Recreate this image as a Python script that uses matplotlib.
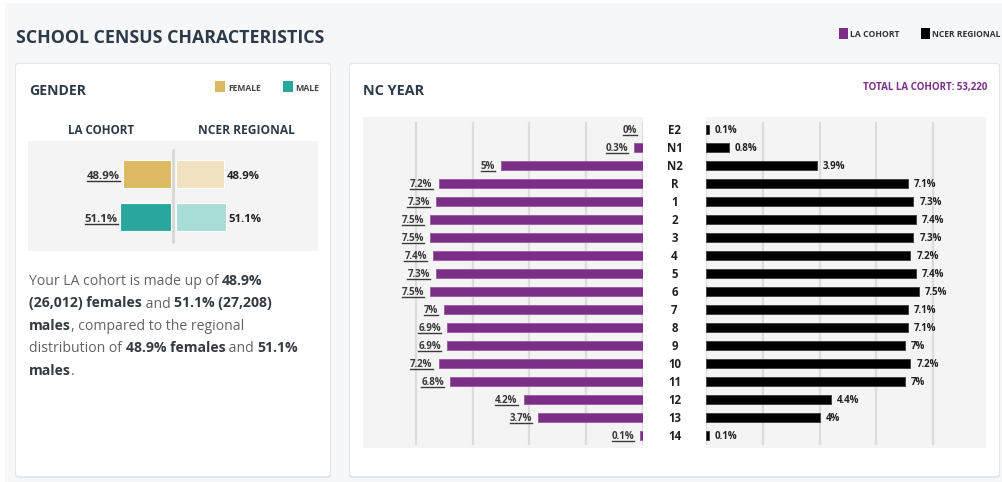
import matplotlib
matplotlib.use('Agg')
import matplotlib.pyplot as plt
from matplotlib import font_manager
from matplotlib.patches import FancyBboxPatch, Rectangle
from matplotlib.lines import Line2D
from matplotlib.transforms import Affine2D, IdentityTransform

# ---- data ----
nc_years = ['E2', 'N1', 'N2', 'R', '1', '2', '3', '4', '5', '6', '7', '8', '9',
            '10', '11', '12', '13', '14']
la_cohort = [0, 0.3, 5, 7.2, 7.3, 7.5, 7.5, 7.4, 7.3, 7.5, 7, 6.9, 6.9, 7.2, 6.8, 4.2, 3.7, 0.1]
ncer_regional = [0.1, 0.8, 3.9, 7.1, 7.3, 7.4, 7.3, 7.2, 7.4, 7.5, 7.1, 7.1, 7, 7.2, 7, 4.4, 4, 0.1]
total_la_cohort = '53,220'

genders = ['FEMALE', 'MALE']
gender_la = [48.9, 51.1]
gender_ncer = [48.9, 51.1]
gender_la_counts = ['26,012', '27,208']

# ---- style ----
PURPLE = '#7b2f87'
BLACK = '#000000'
DARK = '#2c3a4a'
FEMALE_C = ['#dcb962', '#f1e3c2']
MALE_C = ['#2aa79c', '#a9ddd8']
GRAY_BG = '#f4f4f4'
GRID = '#dcdcdc'

W, H = 1003, 482
fig = plt.figure(figsize=(W / 100, H / 100), dpi=100)
fig.patch.set_facecolor('white')
renderer = fig.canvas.get_renderer()

# pixel coords, origin top-left
PX = Affine2D().scale(1 / 100, -1 / 100).translate(0, H / 100) + fig.dpi_scale_trans

names = {f.name for f in font_manager.fontManager.ttflist}
COND = 'Liberation Sans Narrow' if 'Liberation Sans Narrow' in names else 'Open Sans'
BODY = 'Open Sans' if 'Open Sans' in names else 'DejaVu Sans'


def ax_at(x0, y0, x1, y1):
    return fig.add_axes([x0 / W, 1 - y1 / H, (x1 - x0) / W, (y1 - y0) / H])


def fit(t, target):
    for _ in range(2):
        w = t.get_window_extent(renderer).width
        t.set_fontsize(t.get_fontsize() * target / w)
    return t


def header(x0, x1, base, s, color=DARK, size=12):
    t = fig.text(x0, base, s, transform=PX, fontfamily=COND, fontweight='bold',
                 color=color, ha='left', va='baseline', fontsize=size)
    return fit(t, x1 - x0)


def seg_width(s, **kw):
    a = fig.text(0, 0, '|' + s + '|', **kw)
    b = fig.text(0, 0, '||', **kw)
    w = a.get_window_extent(renderer).width - b.get_window_extent(renderer).width
    a.remove()
    b.remove()
    return w


def underline(t, y_disp, color):
    bb = t.get_window_extent(renderer)
    fig.add_artist(Line2D([bb.x0, bb.x1], [y_disp, y_disp], transform=IdentityTransform(),
                          color=color, lw=1.0))


# ---- background and cards ----
fig.add_artist(Rectangle((5, 3), W - 5, H - 3, transform=PX, facecolor='#f6f7f9',
                         edgecolor='none', zorder=-3))
for (cx, cy, cw, ch) in [(16, 64, 314, 412), (350, 64, 649, 412)]:
    fig.add_artist(FancyBboxPatch((cx - 1, cy - 1), cw + 2, ch + 3, transform=PX,
                                  boxstyle='round,pad=0,rounding_size=3',
                                  facecolor='#e3e6ea', edgecolor='none', zorder=-2))
    fig.add_artist(FancyBboxPatch((cx, cy), cw, ch, transform=PX,
                                  boxstyle='round,pad=0,rounding_size=3',
                                  facecolor='white', edgecolor='none', zorder=-1))

# ---- titles and top legend ----
header(16, 324, 43, 'SCHOOL CENSUS CHARACTERISTICS', size=18)
fig.add_artist(Rectangle((839, 28), 9, 11, transform=PX, facecolor=PURPLE, edgecolor='none'))
header(850, 899, 37.3, 'LA COHORT', color='#333333', size=7)
fig.add_artist(Rectangle((921, 28), 9, 11, transform=PX, facecolor=BLACK, edgecolor='none'))
header(932, 1000, 37.3, 'NCER REGIONAL', color='#333333', size=7)

# ---- gender panel ----
header(29, 86, 95.3, 'GENDER', size=13)
fig.add_artist(Rectangle((215, 81), 10, 11, transform=PX, facecolor=FEMALE_C[0], edgecolor='none'))
header(228, 261, 91, genders[0], color='#444444', size=7)
fig.add_artist(Rectangle((283, 81), 10, 11, transform=PX, facecolor=MALE_C[0], edgecolor='none'))
header(295, 319, 91, genders[1], color='#444444', size=7)
header(68, 134, 134, 'LA COHORT', size=11)
header(198, 293, 134, 'NCER REGIONAL', size=11)

g_scale = 0.985  # px per %
g_center = 172.7
gax = ax_at(28.3, 141, 318.3, 250.7)
gax.set_facecolor(GRAY_BG)
gax.set_xlim(-(g_center - 28.3) / g_scale, (318.3 - g_center) / g_scale)
gax.set_ylim((250.7 - 174.2) / 43, (141 - 174.2) / 43)
gax.axis('off')
gax.add_patch(Rectangle((0, 0), 1, 1, transform=gax.transAxes, facecolor=GRAY_BG,
                        edgecolor='none', zorder=0))
gax.vlines([0.3], (149 - 174.2) / 43, (242.7 - 174.2) / 43, color='#d6d6d6', lw=2, zorder=1)
gap_l, gap_r = 2.0, 3.4
for i in range(len(genders)):
    cols = FEMALE_C if i == 0 else MALE_C
    gax.barh(i, -gender_la[i], left=-gap_l, height=0.65, color=cols[0], edgecolor='white',
             lw=0.8, zorder=2)
    gax.barh(i, gender_ncer[i], left=gap_r, height=0.65, color=cols[1], edgecolor='white',
             lw=0.8, zorder=2)
    t = gax.annotate(f'{gender_la[i]}%', xy=(-gap_l - gender_la[i], i), xytext=(-2.5, -4.5),
                     textcoords='offset pixels', ha='right', va='baseline', fontsize=8.2,
                     fontfamily=BODY, fontweight='bold', color='#333333', zorder=3)
    y_base = gax.transData.transform((0, i))[1] - 4.5
    underline(t, y_base - 1.8, '#333333')
    gax.annotate(f'{gender_ncer[i]}%', xy=(gap_r + gender_ncer[i], i), xytext=(2.5, -4.5),
                 textcoords='offset pixels', ha='left', va='baseline', fontsize=8.2,
                 fontfamily=BODY, fontweight='bold', color='#222222', zorder=3)

# paragraph
para = [
    [('Your LA cohort is made up of ', False), (f'{gender_la[0]}%', True)],
    [(f'({gender_la_counts[0]}) females', True), (' and ', False),
     (f'{gender_la[1]}% ({gender_la_counts[1]})', True)],
    [('males', True), (', compared to the regional', False)],
    [('distribution of ', False), (f'{gender_ncer[0]}% females', True), (' and ', False),
     (f'{gender_ncer[1]}%', True)],
    [('males', True), ('.', False)],
]


def seg_kw(bold, fs):
    return dict(fontsize=fs, fontfamily=BODY, fontweight='bold' if bold else 'normal',
                color='#333a42' if bold else '#5f6368')


fs = 10
w1 = sum(seg_width(s, **seg_kw(b, fs)) for s, b in para[0])
fs = fs * 234 / w1
for k, line in enumerate(para):
    x = 29
    for s, b in line:
        kw = seg_kw(b, fs)
        fig.text(x, 285 + 22.5 * k, s, transform=PX, ha='left', va='baseline', **kw)
        x += seg_width(s, **kw)

# ---- NC year panel ----
header(363, 424, 95, 'NC YEAR', size=13)
header(862.7, 988.3, 90, f'TOTAL LA COHORT: {total_la_cohort}', color=PURPLE, size=8)

scale = 28.4  # px per %
row0, step = 129.7, 18.0
ylim = ((448 - row0) / step, (116.7 - row0) / step)
rows = list(range(len(nc_years)))

lax = ax_at(363, 116.7, 643, 448)
rax = ax_at(706, 116.7, 986, 448)
for ax, vals, color, edge in [(lax, la_cohort, PURPLE, '#9b5fa5'),
                              (rax, ncer_regional, BLACK, '#444444')]:
    ax.set_facecolor(GRAY_BG)
    ax.set_ylim(*ylim)
    ax.set_xticks([])
    ax.set_yticks([])
    for sp in ax.spines.values():
        sp.set_visible(False)
    ax.vlines([0, 2, 4, 6, 8], (121.7 - row0) / step, (445 - row0) / step, color=GRID,
              lw=1.6, zorder=0)
    ax.barh(rows, vals, height=0.52, color=color, edgecolor=edge, lw=0.7, zorder=2)
lax.set_xlim(280 / scale, 0)
rax.set_xlim(0, 280 / scale)

for i, v in enumerate(la_cohort):
    t = lax.annotate(f'{v:g}%', xy=(v, i), xytext=(-6, -3.5), textcoords='offset pixels',
                     ha='right', va='baseline', fontsize=7, fontfamily=BODY,
                     fontweight='bold', color='#3a3a3a', zorder=3)
    y_base = lax.transData.transform((0, i))[1] - 3.5
    underline(t, y_base - 1.6, '#3a3a3a')
for i, v in enumerate(ncer_regional):
    rax.annotate(f'{v:g}%', xy=(v, i), xytext=(6, -3.5), textcoords='offset pixels',
                 ha='left', va='baseline', fontsize=7, fontfamily=BODY,
                 fontweight='bold', color='#222222', zorder=3)
    rax.annotate(nc_years[i], xy=(0, i), xytext=(674.5 - 706, -4.2), textcoords='offset pixels',
                 ha='center', va='baseline', fontsize=8.3, fontfamily=BODY,
                 fontweight='bold', color='#222222', annotation_clip=False)

fig.savefig('out.png', dpi=100, facecolor=fig.get_facecolor())
